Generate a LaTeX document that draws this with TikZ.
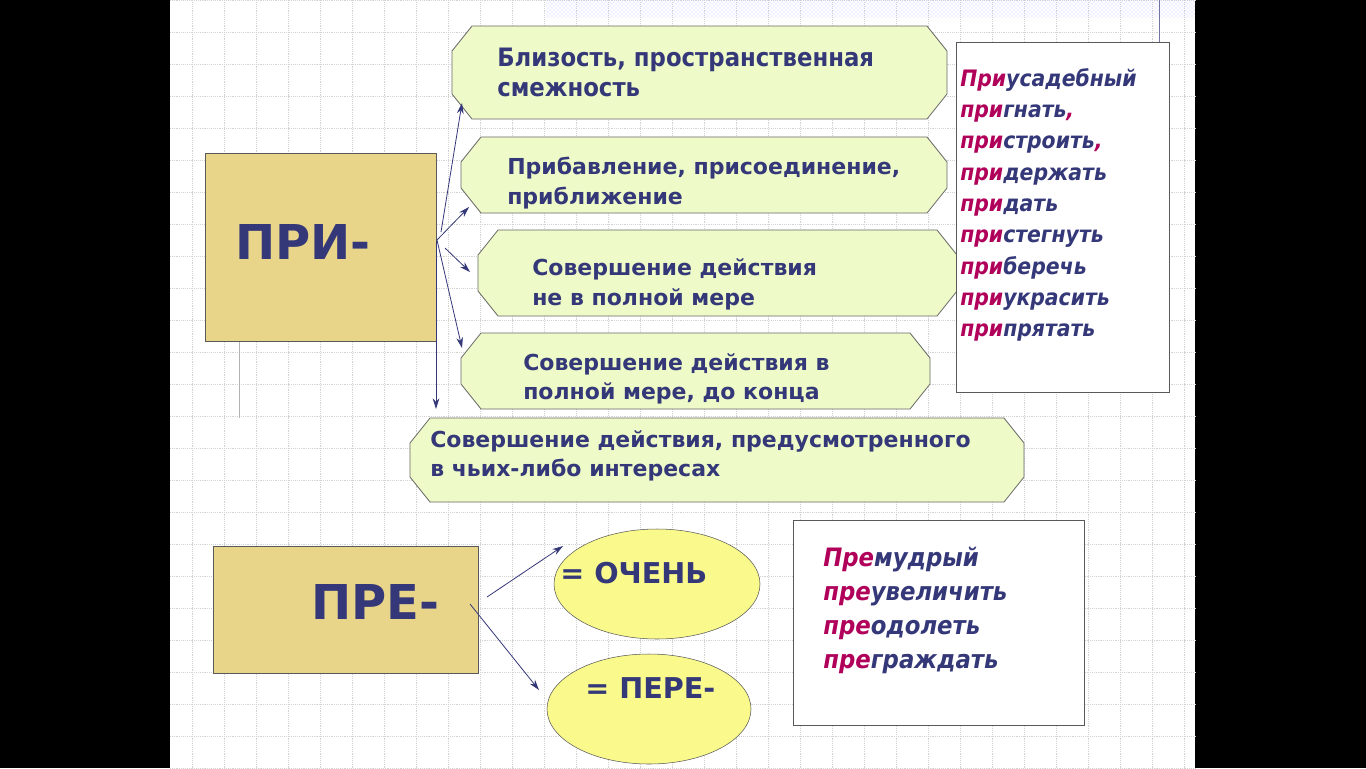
\documentclass[tikz,border=0pt]{standalone}
\usepackage{fontspec}
\setmainfont{DejaVu Sans}
\newfontfamily\lst{DejaVu Sans Condensed}
\usetikzlibrary{shapes.geometric,patterns,arrows.meta}
\definecolor{ink}{HTML}{343878}
\definecolor{mag}{HTML}{B0005A}
\definecolor{gold}{HTML}{E9D58A}
\definecolor{pale}{HTML}{EEFBC8}
\definecolor{yel}{HTML}{FAFA8C}
\newcommand\octbox[5]{%
  \coordinate (#5) at ({(#1+#3)/2},{(#2+#4)/2});
  \filldraw[draw=gray!80!black,fill=pale,line width=0.6pt]
   ({#1+20},#2) -- ({#3-20},#2) -- (#3,{#2+25}) -- (#3,{#4-25}) -- ({#3-20},#4)
   -- ({#1+20},#4) -- (#1,{#4-25}) -- (#1,{#2+25}) -- cycle;}
\begin{document}
\begin{tikzpicture}[x=0.75pt,y=-0.75pt,
  lab/.style={font=\bfseries\fontsize{16.5}{22}\selectfont,text=ink,align=left,anchor=west,inner sep=0},
  arr/.style={-{Stealth[length=8pt,width=5pt]},draw=ink,line width=0.6pt},
  lt/.style={font=\lst\bfseries\itshape\fontsize{17}{23.5}\selectfont,text=ink,align=left,anchor=north west,inner sep=0}]
\useasboundingbox (0,0) rectangle (1366,768);
\fill[black] (0,0) rectangle (1366,768);
\fill[white] (170,0) rectangle (1195,768);
\draw[gray!35,densely dotted,step=24pt] (170,0) grid (1195,768);
\fill[pattern=crosshatch dots,pattern color=blue!25] (546,0) rectangle (1195,17);
\draw[ink!70,line width=0.5pt] (1159,0) -- (1159,42);
\draw[gray!60,line width=0.6pt] (239,341) -- (239,418);
% boxes
\octbox{452}{26}{947}{119}{b1}
\octbox{461}{137}{947}{213}{b2}
\octbox{478}{230}{957}{316}{b3}
\octbox{461}{333}{930}{409}{b4}
\octbox{410}{418}{1024}{502}{b5}
\node[lab,font=\bfseries\fontsize{19}{22.5}\selectfont\addfontfeatures{FakeStretch=0.9}] (t1) at (497,72) {Близость, пространственная\\смежность};
\node[lab] (t2) at (507,183) {Прибавление, присоединение,\\приближение};
\node[lab] (t3) at (532,284.5) {Совершение действия\\не в полной мере};
\node[lab] (t4) at (523,379) {Совершение действия в\\полной мере, до конца};
\node[lab] (t5) at (430,456) {Совершение действия, предусмотренного\\в чьих-либо интересах};
% PRI
\node[draw=gray!70!black,fill=gold,minimum width=173.25pt,minimum height=141pt,inner sep=0] (pri) at (320.5,247) {};
\node[lab,font=\bfseries\fontsize{36}{40}\selectfont] (pt) at (235,242) {ПРИ-};
\node[draw=gray!70!black,fill=gold,minimum width=198.75pt,minimum height=95.25pt,inner sep=0] (pre) at (345.5,609.5) {};
\node[lab,font=\bfseries\fontsize{36}{40}\selectfont] (prt) at (311,602) {ПРЕ-};
\node[ellipse,draw=gray!70!black,fill=yel,minimum width=154.5pt,minimum height=82.5pt] (e1) at (657,584) {};
\node[ellipse,draw=gray!70!black,fill=yel,minimum width=153pt,minimum height=82.5pt] (e2) at (649,709) {};
\node[lab,font=\bfseries\fontsize{21.5}{26}\selectfont] (et1) at (560,573) {= ОЧЕНЬ};
\node[lab,font=\bfseries\fontsize{21.5}{26}\selectfont] (et2) at (585,688) {= ПЕРЕ-};
% arrows
\coordinate (o1) at (441,232); \coordinate (o2) at (437,240);
\coordinate (o3) at (445,248);
\draw[arr] (o1) -- (462,103);
\draw[arr] (o2) -- (469,207);
\draw[arr] (o3) -- (470,272);
\draw[arr] (o2) -- (462,348);
\draw[arr] (436,241) -- (436,409);
\coordinate (q1) at (487,597); \coordinate (q2) at (470,604);
\draw[arr] (q1) -- (563,546);
\draw[arr] (q2) -- (539,690);
% right lists
\node[draw=gray!70!black,fill=white,minimum width=159.75pt,minimum height=262.5pt,inner sep=0] (r1) at (1062.5,217) {};
\node[lt] (l1) at (960,68) {\textcolor{mag}{При}усадебный\\
\textcolor{mag}{при}гнать\textcolor{mag}{,}\\
\textcolor{mag}{при}строить\textcolor{mag}{,}\\
\textcolor{mag}{при}держать\\
\textcolor{mag}{при}дать\\
\textcolor{mag}{при}стегнуть\\
\textcolor{mag}{при}беречь\\
\textcolor{mag}{при}украсить\\
\textcolor{mag}{при}прятать};
\node[draw=gray!70!black,fill=white,minimum width=218.25pt,minimum height=153.75pt,inner sep=0] (r2) at (938.5,622.5) {};
\node[lt,font=\lst\bfseries\itshape\fontsize{19}{25.5}\selectfont] (l2) at (823,547) {\textcolor{mag}{Пре}мудрый\\
\textcolor{mag}{пре}увеличить\\
\textcolor{mag}{пре}одолеть\\
\textcolor{mag}{пре}граждать};
\end{tikzpicture}
\end{document}
